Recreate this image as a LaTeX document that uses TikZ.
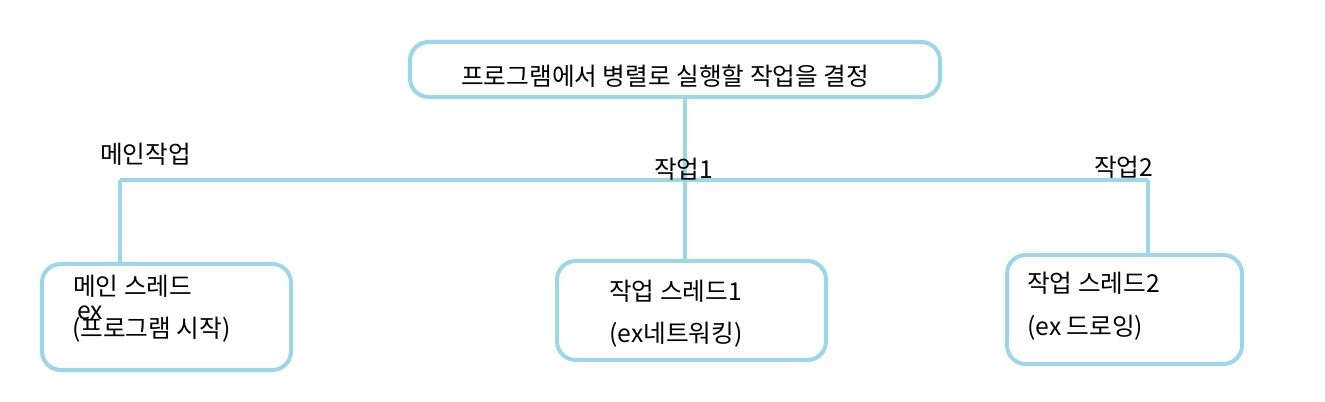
\documentclass[tikz,border=0pt]{standalone}
\usepackage{fontspec}
\setmainfont{Noto Sans CJK KR}
\usepackage{tikz}
\usetikzlibrary{positioning,calc}
\definecolor{threadblue}{RGB}{155,215,230}
\tikzset{
    threadbox/.style={draw=threadblue,line width=3pt,rounded corners=14,inner sep=0pt},
    link/.style={draw=threadblue,line width=3pt},
    label/.style={anchor=base west,inner sep=0pt,font=\fontsize{18.5pt}{22pt}\selectfont}
}
\begin{document}
\begin{tikzpicture}[x=0.75pt,y=0.75pt,yscale=-1,xscale=1]
        \useasboundingbox (0,0) rectangle (1325,402);
        % top box
        \node [threadbox,minimum width=530*0.75pt,minimum height=55*0.75pt] (goal) at (675,69.5) {};
        % thread boxes
        \node [threadbox,minimum width=249*0.75pt,minimum height=106*0.75pt] (mainbox) at (166.5,317) {};
        \node [threadbox,minimum width=269*0.75pt,minimum height=99*0.75pt] (workbox1) at (691.5,310.5) {};
        \node [threadbox,minimum width=235*0.75pt,minimum height=109*0.75pt] (workbox2) at (1124.5,309.5) {};
        % connectors
        \coordinate (branchL) at (120,180);
        \coordinate (branchR) at (1148,180);
        \draw [link] (goal.south -| 685,0) -- (workbox1.north -| 685,0);
        \draw [link] (branchL) -- (branchR);
        \draw [link] (branchL) -- (mainbox.north -| branchL);
        \draw [link] (branchR) -- (workbox2.north -| branchR);
        % texts
        \node [label] (goaltext) at (461,86) {프로그램에서 병렬로 실행할 작업을 결정};
        \node [label] (maintitle) at (73,296) {메인 스레드};
        \node [label] (mainex) at (77,320) {ex};
        \node [label] (maindesc) at (72,338) {(프로그램 시작)};
        \node [label] (worktitle1) at (609,301) {작업 스레드1};
        \node [label] (workdesc1) at (609,343) {(ex네트워킹)};
        \node [label] (worktitle2) at (1027,293) {작업 스레드2};
        \node [label] (workdesc2) at (1027,336) {(ex 드로잉)};
        \node [label] (mainlabel) at (100,164) {메인작업};
        \node [label] (worklabel1) at (654,179) {작업1};
        \node [label] (worklabel2) at (1094,177) {작업2};
\end{tikzpicture}
\end{document}
